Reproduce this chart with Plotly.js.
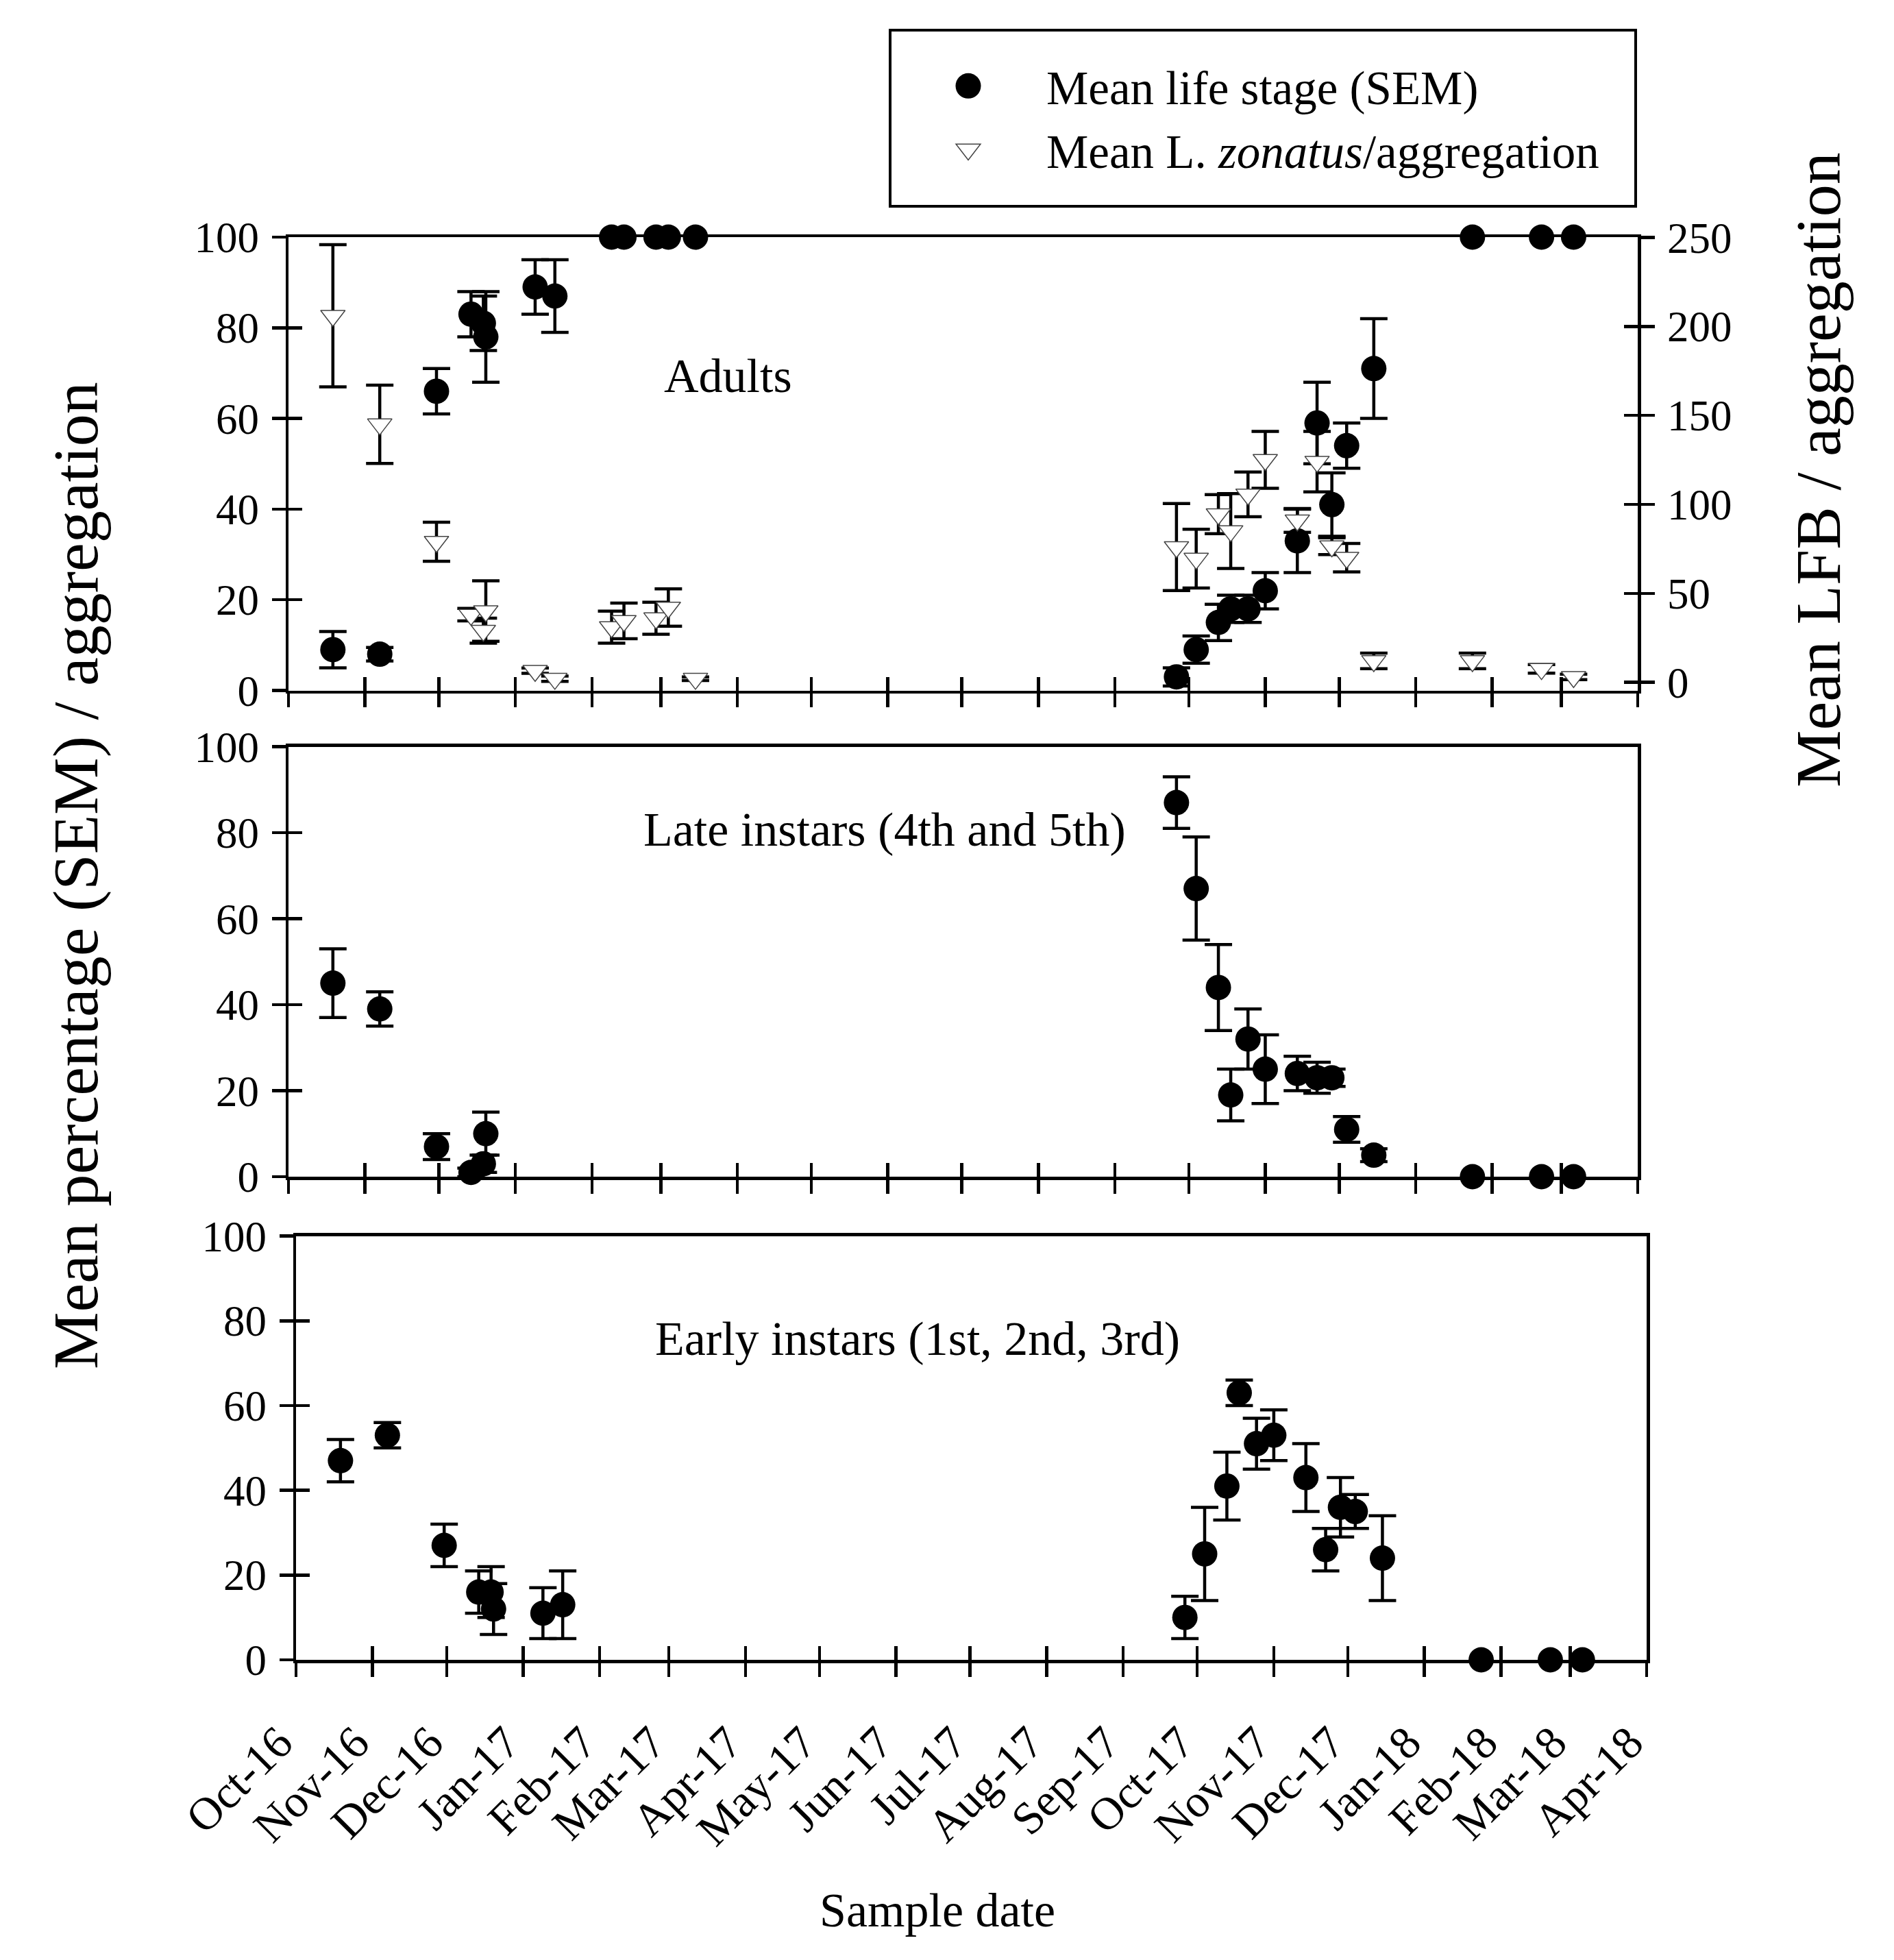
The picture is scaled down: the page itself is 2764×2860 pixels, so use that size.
<!DOCTYPE html>
<html><head><meta charset="utf-8">
<script src="https://cdn.plot.ly/plotly-3.0.1.min.js"></script>
<style>html,body{margin:0;padding:0;background:#fff}</style>
</head><body><div id="chart" style="width:2764px;height:2860px"></div>
<script>
// ---------------- data ----------------
const sampleDates = ['2016-10-19','2016-11-07','2016-11-30','2016-12-14','2016-12-19','2016-12-20',
  '2017-01-09','2017-01-17','2017-02-09','2017-02-14','2017-02-27','2017-03-04','2017-03-15',
  '2017-09-26','2017-10-04','2017-10-13','2017-10-18','2017-10-25','2017-11-01','2017-11-14',
  '2017-11-22','2017-11-28','2017-12-04','2017-12-15','2018-01-24','2018-02-21','2018-03-06'];

const adultsPct = [9,8,66,83,81,78,89,87,100,100,100,100,100,3,9,15,18,18,22,33,59,41,54,71,100,100,100];
const adultsSem = [4,1.5,5,5,6,10,6,8,null,null,null,null,null,2,3,4,3,3,4,7,9,7,5,11,null,null,null];

const lfbPerAgg = [206,145,79,38,29,40,6.5,2,31,34.5,36,42,2,76,69.5,94.5,85,105.6,125,91,124,76.5,70,12,12,7.5,3];
const lfbSem    = [40,22,11,3.5,7,17,1.5,1.5,9,10,9,10.5,1,24.5,16.5,11,21,12.6,16,6.7,17,4.7,8,4.4,4.4,2.4,1.5];

const latePct = [45,39,7,1,3,10,null,null,null,null,null,null,null,87,67,44,19,32,25,24,23,23,11,5,0,0,0];
const lateSem = [8,4,3,1,2,5,null,null,null,null,null,null,null,6,12,10,6,7,8,4,3.6,2,3,1.5,null,null,null];

const earlyPct = [47,53,27,16,16,12,11,13,null,null,null,null,null,10,25,41,63,51,53,43,26,36,35,24,0,0,0];
const earlySem = [5,3,5,5,6,6,6,8,null,null,null,null,null,5,11,8,3,6,6,8,5,7,4,10,null,null,null];

const xRange = ['2016-10-01','2018-04-01'];
const leftTicks = [0,20,40,60,80,100];
const rightTicks = [0,50,100,150,200,250];

const legendNames = ['Mean life stage (SEM)', 'Mean L. <i>zonatus</i>/aggregation'];
const panelLabels = ['Adults', 'Late instars (4th and 5th)', 'Early instars (1st, 2nd, 3rd)'];
const xTitle = 'Sample date';
const yTitleLeft = 'Mean percentage (SEM) / aggregation';
const yTitleRight = 'Mean LFB / aggregation';

// ---------------- layout helpers ----------------
const W = 2764, H = 2860;
const px = p => p / W;
const py = p => 1 - p / H;
const FONT = 'Liberation Serif, Times New Roman, serif';
const LW = 4.5, TL = 20;
const err = a => a.map(v => (v === null ? NaN : v));

const P1 = {x:[421,2390], y:[346,1007.5]};
const P2 = {x:[421,2390], y:[1089.5,1717]};
const P3 = {x:[432,2403], y:[1803.6,2422]};
const dx = P => [px(P.x[0]), px(P.x[1])];
const dy = P => [py(P.y[1]), py(P.y[0])];

const ebar = a => ({type:'data', array: err(a), visible:true, color:'#000', thickness:LW, width:20});
const circle = {symbol:'circle', size:37, color:'#000', line:{width:0}};

// empty helper traces so the inner-tick overlay axes get their own subplots
const tickHolder = (xa, ya) => ({x:[null], y:[null], xaxis:xa, yaxis:ya, type:'scatter', mode:'markers',
  showlegend:false, hoverinfo:'skip', marker:{size:1, opacity:0}});

const traces = [
  {x: sampleDates, y: adultsPct, xaxis:'x', yaxis:'y', type:'scatter', mode:'markers',
   name: legendNames[0], marker: circle, error_y: ebar(adultsSem), cliponaxis:false, showlegend:true},
  {x: sampleDates, y: lfbPerAgg, xaxis:'x', yaxis:'y5', type:'scatter', mode:'markers',
   name: legendNames[1], marker:{symbol:'triangle-down', size:31, color:'#fff', line:{color:'#444', width:1.5}},
   error_y: ebar(lfbSem), cliponaxis:false, showlegend:true},
  {x: sampleDates, y: latePct, xaxis:'x2', yaxis:'y2', type:'scatter', mode:'markers',
   name:'Late instars', marker: circle, error_y: ebar(lateSem), cliponaxis:false, showlegend:false},
  {x: sampleDates, y: earlyPct, xaxis:'x3', yaxis:'y3', type:'scatter', mode:'markers',
   name:'Early instars', marker: circle, error_y: ebar(earlySem), cliponaxis:false, showlegend:false},
  tickHolder('x4','y4'), tickHolder('x4','y6'), tickHolder('x5','y7'), tickHolder('x6','y8')
];

const xBase = (P, anchor, labels, mirror) => ({
  type:'date', domain: dx(P), anchor: anchor, range: xRange, autorange:false,
  tick0:'2016-10-01', dtick:'M1', tickformat:'%b-%y',
  ticks:'outside', ticklen:TL, tickwidth:LW, tickcolor:'#000',
  showline:true, linewidth:LW, linecolor:'#000', mirror: mirror,
  showgrid:false, zeroline:false, showticklabels: labels,
  tickangle:-45, ticklabelstandoff:30, ticklabelshift:-25,
  tickfont:{family:FONT, size:67, color:'#000'}
});
const xIn = (over, anchor, P) => ({
  type:'date', domain: dx(P), overlaying: over, anchor: anchor, range: xRange, autorange:false,
  tick0:'2016-10-01', dtick:'M1', ticks:'inside', ticklen:TL, tickwidth:LW, tickcolor:'#000',
  showline:false, showgrid:false, zeroline:false, showticklabels:false
});
const yBase = (P, anchor, mirror) => ({
  domain: dy(P), anchor: anchor, range:[0,100], autorange:false, tickvals:leftTicks,
  ticks:'outside', ticklen:TL, tickwidth:LW, tickcolor:'#000',
  showline:true, linewidth:LW, linecolor:'#000', mirror: mirror,
  showgrid:false, zeroline:false, ticklabelstandoff:6,
  tickfont:{family:FONT, size:63, color:'#000'}
});
const yIn = (over, anchor, P, side, range, vals) => ({
  domain: dy(P), overlaying: over, anchor: anchor, side: side, range: range, autorange:false,
  tickvals: vals, ticks:'inside', ticklen:TL, tickwidth:LW, tickcolor:'#000',
  showline:false, showgrid:false, zeroline:false, showticklabels:false
});
const rightRange = [-4.6, 250.2];

const ann = (text, x, y, size, angle) => ({
  text: text, x: px(x), y: py(y), xref:'paper', yref:'paper', showarrow:false,
  xanchor:'center', yanchor:'middle', textangle: angle || 0,
  font:{family:FONT, size:size, color:'#000'}
});

const layout = {
  width: W, height: H, margin:{l:0, r:0, t:0, b:0},
  paper_bgcolor:'#fff', plot_bgcolor:'rgba(0,0,0,0)',
  font:{family:FONT, color:'#000', size:63},
  showlegend:true,
  legend:{x: px(1299), y: py(74), xanchor:'left', yanchor:'top', bgcolor:'rgba(0,0,0,0)',
          borderwidth:0, font:{family:FONT, size:69, color:'#000'}, itemwidth:218, traceorder:'normal'},
  xaxis: xBase(P1, 'y', false, true),
  xaxis2: xBase(P2, 'y2', false, true),
  xaxis3: xBase(P3, 'y3', true, true),
  xaxis4: xIn('x', 'y4', P1),
  xaxis5: xIn('x2', 'y7', P2),
  xaxis6: xIn('x3', 'y8', P3),
  yaxis: yBase(P1, 'x', false),
  yaxis2: yBase(P2, 'x2', true),
  yaxis3: yBase(P3, 'x3', true),
  yaxis4: yIn('y', 'x4', P1, 'left', [0,100], leftTicks),
  yaxis5: Object.assign(yIn('y', 'x', P1, 'right', rightRange, rightTicks),
          {ticks:'outside', showline:true, linewidth:LW, linecolor:'#000', showticklabels:true,
           ticklabelstandoff:6, tickfont:{family:FONT, size:63, color:'#000'}}),
  yaxis6: yIn('y', 'x4', P1, 'right', rightRange, rightTicks),
  yaxis7: yIn('y2', 'x5', P2, 'left', [0,100], leftTicks),
  yaxis8: yIn('y3', 'x6', P3, 'left', [0,100], leftTicks),
  shapes:[{type:'rect', xref:'paper', yref:'paper', x0:px(1299), x1:px(2387), y0:py(301), y1:py(44),
           line:{color:'#000', width:4}, fillcolor:'rgba(0,0,0,0)', layer:'below'}],
  annotations:[
    ann(panelLabels[0], 1062, 548, 70),
    ann(panelLabels[1], 1291, 1210, 70),
    ann(panelLabels[2], 1339, 1953, 70),
    ann(xTitle, 1368, 2787, 70),
    ann(yTitleLeft, 110, 1278, 94, -90),
    ann(yTitleRight, 2653, 686, 94, -90)
  ]
};

Plotly.newPlot('chart', traces, layout, {staticPlot:true, displayModeBar:false}).then(gd => {
  const scales = [37/16, 31/16];
  gd.querySelectorAll('.legend .traces').forEach((tr, i) => {
    tr.querySelectorAll('path.scatterpts').forEach(p => {
      const t = p.getAttribute('transform') || '';
      p.setAttribute('transform', t + ' scale(' + scales[Math.min(i,1)] + ')');
      p.style.vectorEffect = 'non-scaling-stroke';
    });
  });
});
</script></body></html>
